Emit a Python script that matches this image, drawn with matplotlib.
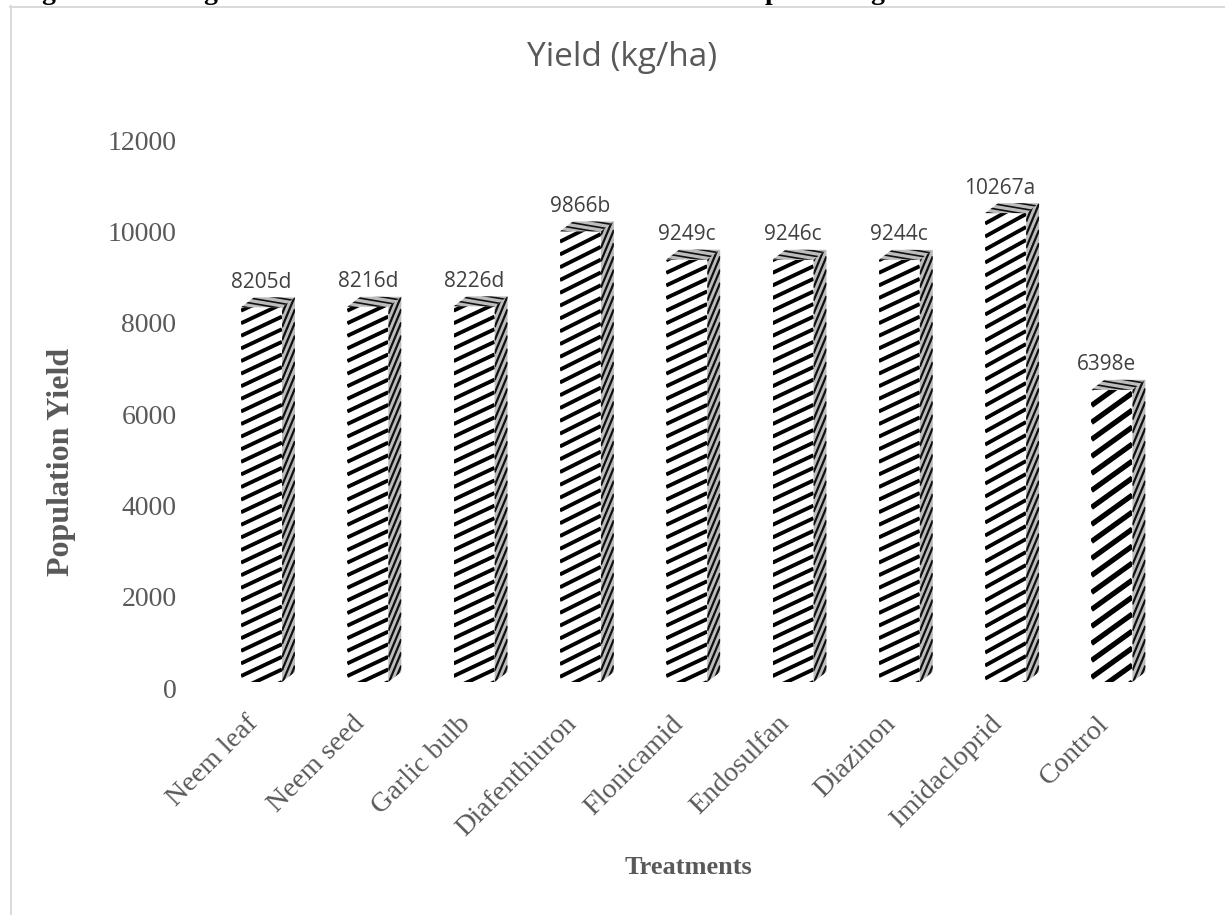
#!/usr/bin/env python3

import numpy as np
import matplotlib
matplotlib.use("Agg")
import matplotlib.pyplot as plt
from matplotlib.collections import LineCollection
from matplotlib.lines import Line2D
from matplotlib.patches import Polygon
from matplotlib.transforms import ScaledTranslation

# ----------------------------
# Data
# ----------------------------
treatments = ["Neem leaf", "Neem seed", "Garlic bulb", "Diafenthiuron", "Flonicamid",
              "Endosulfan", "Diazinon", "Imidacloprid", "Control"]
yields = [8205, 8216, 8226, 9866, 9249, 9246, 9244, 10267, 6398]
letters = ["d", "d", "d", "b", "c", "c", "c", "a", "e"]
y_ticks = [0, 2000, 4000, 6000, 8000, 10000, 12000]

# ----------------------------
# Style settings (pixels are on the 1225x915 figure)
# ----------------------------
W, H = 1225, 915
GREY = "#595959"
SERIF = "Liberation Serif"
CAT_PX = 106.3
Y_PX = 548 / 12000
BAR_PX = 41
DX_PX, DY_PX = 13, 10
stripe_gap = [12.6, 12.6, 12.6, 12.8, 12.6, 12.6, 12.6, 13, 17]
stripe_slope = [0.47, 0.47, 0.47, 0.5, 0.47, 0.47, 0.47, 0.55, 0.72]
stripe_lw = [2.8, 2.8, 2.8, 2.8, 2.8, 2.8, 2.8, 2.8, 3.8]
label_shift = [0, 0, 0, 0, 0, 0, 0, -6, -5]

fig = plt.figure(figsize=(W / 100, H / 100), dpi=100)
left, right = 261.5 - 0.5 * CAT_PX, 261.5 + 8.5 * CAT_PX
bottom, top = 682, 134
ax = fig.add_axes([left / W, 1 - bottom / H, (right - left) / W, (bottom - top) / H])
ax.set_xlim(-0.5, 8.5)
ax.set_ylim(0, 12000)
for s in ax.spines.values():
    s.set_visible(False)


def px_x(p):
    return p / CAT_PX


def px_y(p):
    return p / Y_PX


def stripes(ax, clip, x0, x1, y0, y1, gap, slope, lw, color):
    # lines in data coords, spaced evenly up the left edge of the face
    segs = []
    span = (x1 - x0) * CAT_PX
    height = (y1 - y0) * Y_PX
    for start in np.arange(-span * abs(slope) - gap, height + span * abs(slope) + gap, gap):
        segs.append([(x0, y0 + px_y(start)), (x1, y0 + px_y(start + span * slope))])
    lc = LineCollection(segs, colors=color, linewidths=lw, capstyle="butt", zorder=clip.get_zorder() + 0.1)
    ax.add_collection(lc)
    lc.set_clip_path(clip)


# ----------------------------
# Bars with a drawn 3D side and top
# ----------------------------
xs = np.arange(len(treatments))
hw = px_x(BAR_PX) / 2
dx, dy = px_x(DX_PX), px_y(DY_PX)
bars = ax.bar(xs, yields, width=2 * hw, color="white", linewidth=0, zorder=2)

for i, (x, v, bar) in enumerate(zip(xs, yields, bars)):
    stripes(ax, bar, x - hw, x + hw, 0, v, stripe_gap[i], stripe_slope[i], stripe_lw[i], "black")

    side = Polygon([(x + hw, 0), (x + hw + dx, dy), (x + hw + dx, v + dy), (x + hw, v)],
                   facecolor="#bcbcbc", edgecolor="none", zorder=3)
    ax.add_patch(side)
    stripes(ax, side, x + hw, x + hw + dx, -dy, v + dy, 5.5 * 2.4, 2.4, 1.6, "#111111")

    roof = Polygon([(x - hw, v), (x + hw, v), (x + hw + dx, v + dy), (x - hw + dx, v + dy)],
                   facecolor="#bcbcbc", edgecolor="none", zorder=3)
    ax.add_patch(roof)
    stripes(ax, roof, x - hw, x + hw + dx, v, v + dy, 5, -0.17, 1.2, "#111111")

    ax.annotate(f"{v}{letters[i]}", (x, v), xytext=(label_shift[i] * 0.72, 18),
                textcoords="offset points", ha="center", va="center",
                family="Open Sans", fontsize=15, color="#404040")

# ----------------------------
# Ticks, labels, title
# ----------------------------
ax.set_yticks(y_ticks)
ax.set_yticklabels([str(t) for t in y_ticks], family=SERIF, fontsize=20, color=GREY)
ax.tick_params(axis="both", length=0)
ax.tick_params(axis="y", pad=23)
down = ScaledTranslation(0, -6 / 100, fig.dpi_scale_trans)
for lab in ax.get_yticklabels():
    lab.set_transform(lab.get_transform() + down)

ax.set_xticks(xs)
ax.set_xticklabels(treatments, family=SERIF, fontsize=20.3, color=GREY, rotation=45,
                   ha="right", va="top", rotation_mode="anchor")
ax.tick_params(axis="x", pad=21)
shift = ScaledTranslation(-16 / 100, 0, fig.dpi_scale_trans)
for lab in ax.get_xticklabels():
    lab.set_transform(lab.get_transform() + shift)

fig.text(622 / W, 1 - 57 / H, "Yield (kg/ha)", family="Open Sans", fontsize=24, color=GREY,
         ha="center", va="center")
fig.text(62 / W, 1 - 462 / H, "Population Yield", family=SERIF, fontweight="bold", fontsize=23,
         color=GREY, rotation=90, ha="center", va="center")
fig.text(688 / W, 1 - 868 / H, "Treatments", family=SERIF, fontweight="bold", fontsize=19,
         color=GREY, ha="center", va="center")

# heading of the page above is cut off, only descenders are left
for px, ch in [(48, "g"), (210, "g"), (772, "p"), (877, "g")]:
    fig.text(px / W, 1 + 1 / H, ch, family=SERIF, fontweight="bold", fontsize=20, color="black",
             ha="center", va="baseline")

# chart frame
fig.add_artist(Line2D([10.5 / W, 10.5 / W], [0, 1 - 6 / H], color="#d9d9d9", lw=1.4))
fig.add_artist(Line2D([10 / W, 1], [1 - 6.5 / H, 1 - 6.5 / H], color="#d9d9d9", lw=1.4))

fig.savefig("out.png", dpi=100)
